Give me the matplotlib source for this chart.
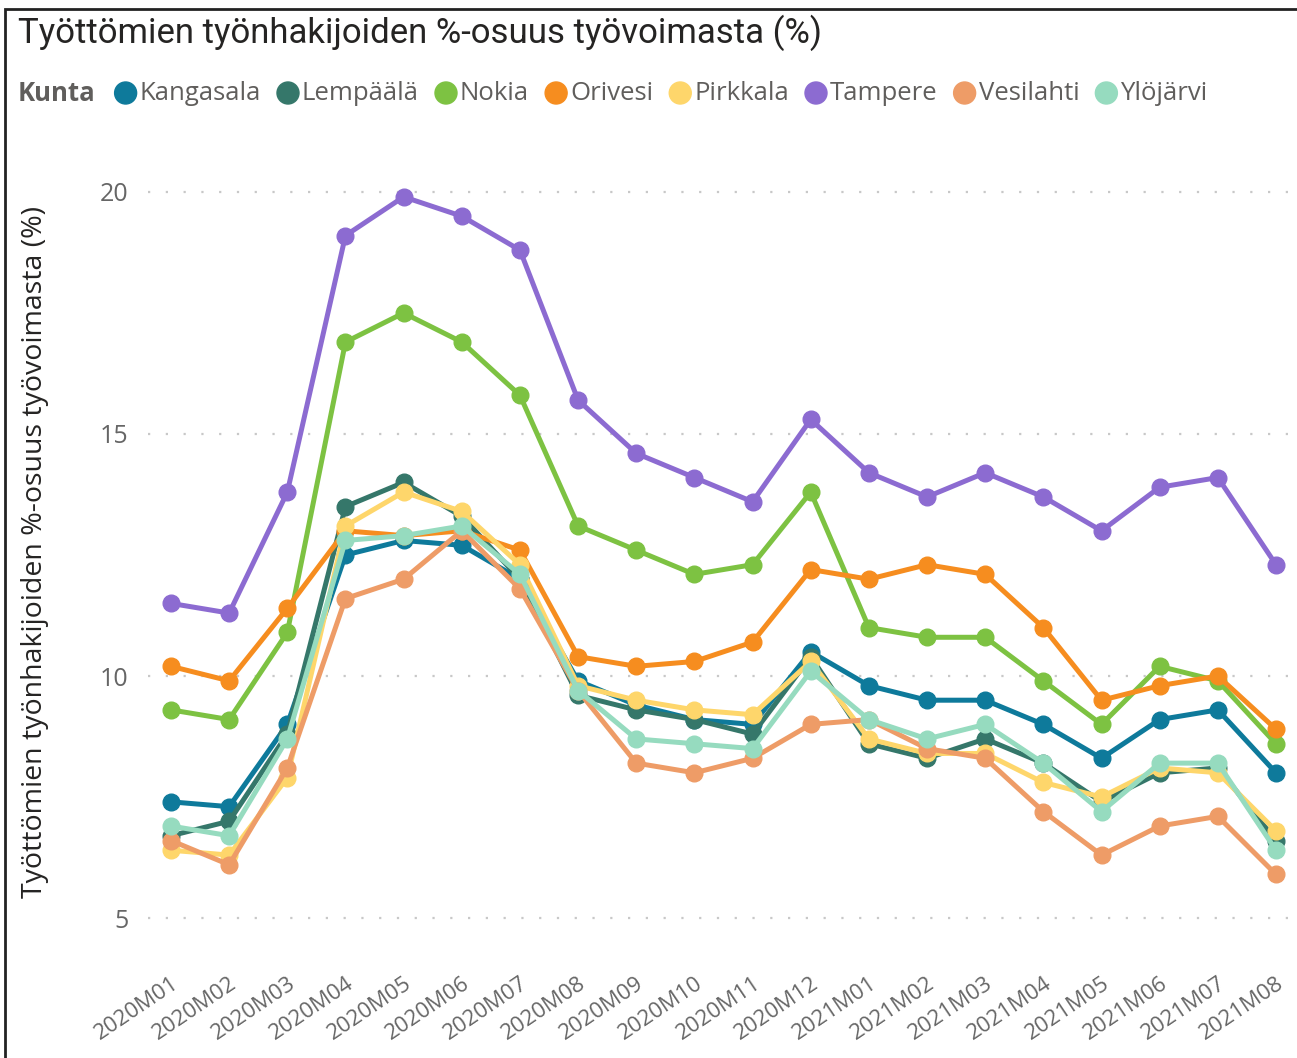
import numpy as np
import matplotlib.pyplot as plt
from matplotlib.patches import Rectangle, Ellipse

# kuukaudet
kuukaudet = ['2020M01', '2020M02', '2020M03', '2020M04', '2020M05', '2020M06',
             '2020M07', '2020M08', '2020M09', '2020M10', '2020M11', '2020M12',
             '2021M01', '2021M02', '2021M03', '2021M04', '2021M05', '2021M06',
             '2021M07', '2021M08']

kangasala = [7.4, 7.3, 9.0, 12.5, 12.8, 12.7, 12.0, 9.9, 9.4, 9.1, 9.0, 10.5,
             9.8, 9.5, 9.5, 9.0, 8.3, 9.1, 9.3, 8.0]
lempaala = [6.7, 7.0, 8.8, 13.5, 14.0, 13.3, 12.0, 9.6, 9.3, 9.1, 8.8, 10.4,
            8.6, 8.3, 8.7, 8.2, 7.4, 8.0, 8.1, 6.6]
nokia = [9.3, 9.1, 10.9, 16.9, 17.5, 16.9, 15.8, 13.1, 12.6, 12.1, 12.3, 13.8,
         11.0, 10.8, 10.8, 9.9, 9.0, 10.2, 9.9, 8.6]
orivesi = [10.2, 9.9, 11.4, 13.0, 12.9, 13.0, 12.6, 10.4, 10.2, 10.3, 10.7, 12.2,
           12.0, 12.3, 12.1, 11.0, 9.5, 9.8, 10.0, 8.9]
pirkkala = [6.4, 6.3, 7.9, 13.1, 13.8, 13.4, 12.3, 9.8, 9.5, 9.3, 9.2, 10.3,
            8.7, 8.4, 8.4, 7.8, 7.5, 8.1, 8.0, 6.8]
tampere = [11.5, 11.3, 13.8, 19.1, 19.9, 19.5, 18.8, 15.7, 14.6, 14.1, 13.6, 15.3,
           14.2, 13.7, 14.2, 13.7, 13.0, 13.9, 14.1, 12.3]
vesilahti = [6.6, 6.1, 8.1, 11.6, 12.0, 13.0, 11.8, 9.7, 8.2, 8.0, 8.3, 9.0,
             9.1, 8.5, 8.3, 7.2, 6.3, 6.9, 7.1, 5.9]
ylojarvi = [6.9, 6.7, 8.7, 12.8, 12.9, 13.1, 12.1, 9.7, 8.7, 8.6, 8.5, 10.1,
            9.1, 8.7, 9.0, 8.2, 7.2, 8.2, 8.2, 6.4]

kunnat = ['Kangasala', 'Lempäälä', 'Nokia', 'Orivesi', 'Pirkkala', 'Tampere',
          'Vesilahti', 'Ylöjärvi']
sarjat = [kangasala, lempaala, nokia, orivesi, pirkkala, tampere, vesilahti, ylojarvi]
varit = ['#0E7A9B', '#35776A', '#7DC242', '#F68D1F', '#FED66B', '#8C6BD1',
         '#EE9C67', '#96DBBF']

FONT = ['Open Sans', 'DejaVu Sans']
W, H = 1297, 1058

fig = plt.figure(figsize=(W / 100, H / 100), dpi=100)

# kehys
fig.patches.append(Rectangle((5 / W, -0.05), 1.1, 1 - 9 / H + 0.05, transform=fig.transFigure,
                             fill=False, edgecolor='#222222', linewidth=2))

# akselit (pikseleistä)
left, right = 148, 1297
top, bottom = 160, 940
ax = fig.add_axes([left / W, 1 - bottom / H, (right - left) / W, (bottom - top) / H])

x = np.arange(len(kuukaudet))
for i, (nimi, arvot, vari) in enumerate(zip(kunnat, sarjat, varit)):
    ax.plot(x, arvot, color=vari, linewidth=3.6, marker='o', markersize=12,
            solid_capstyle='round', zorder=3 + i)

px_per_unit = 48.4
ax.set_ylim(20 - (bottom - 192) / px_per_unit, 20 + (192 - top) / px_per_unit)
ax.set_xlim(-23 / 58.16, 19 + 21 / 58.16)

ax.set_yticks([5, 10, 15, 20])
ax.set_yticklabels(['5', '10', '15', '20'], fontsize=18, color='#666666', family=FONT)
ax.tick_params(axis='y', length=0, pad=14)
ax.set_xticks(x)
ax.set_xticklabels(kuukaudet, rotation=34, ha='right', va='top', rotation_mode='anchor',
                   fontsize=16, color='#666666', family=FONT)
ax.tick_params(axis='x', length=0, pad=24)

ax.grid(axis='y', color='#C8C8C8', linestyle=(0, (1, 7)), linewidth=1.6)
ax.set_axisbelow(True)
for s in ax.spines.values():
    s.set_visible(False)

ax.set_ylabel('Työttömien työnhakijoiden %-osuus työvoimasta (%)', fontsize=20.5,
              color='#252423', family=FONT)
ax.yaxis.set_label_coords(49 / W, 1 - 552 / H, transform=fig.transFigure)

# otsikko
fig.text(18 / W, 1 - 33 / H, 'Työttömien työnhakijoiden %-osuus työvoimasta (%)',
         fontsize=25, color='#252423', family=['Roboto', 'DejaVu Sans'], va='center', ha='left')

# selite
leg_y = 1 - 93 / H
renderer = fig.canvas.get_renderer()
t = fig.text(18 / W, leg_y, 'Kunta', fontsize=18.5, fontweight='bold', color='#605E5C',
             family=FONT, va='center', ha='left')
xpos = t.get_window_extent(renderer).x1 + 19
for nimi, vari in zip(kunnat, varit):
    fig.add_artist(Ellipse(((xpos + 11) / W, leg_y), 22 / W, 22 / H,
                           transform=fig.transFigure, color=vari))
    t = fig.text((xpos + 25) / W, leg_y, nimi, fontsize=18.5, color='#605E5C', family=FONT,
                 va='center', ha='left')
    xpos = t.get_window_extent(renderer).x1 + 16

fig.savefig('out.png', dpi=100)
